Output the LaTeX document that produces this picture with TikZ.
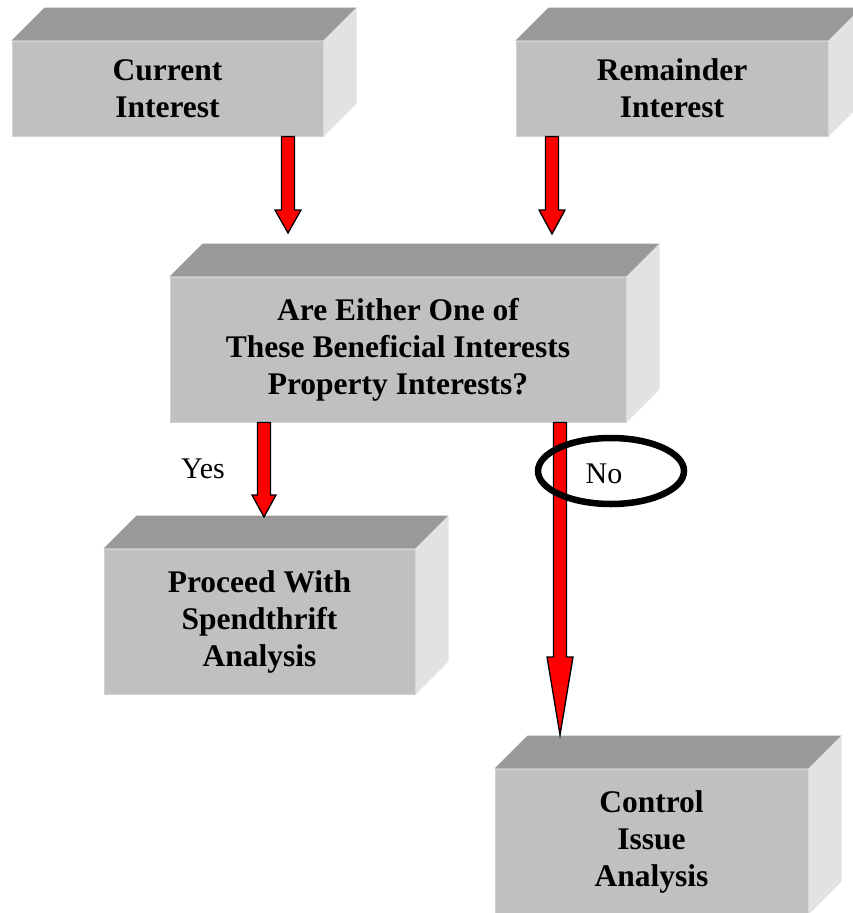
\documentclass[tikz,border=0pt]{standalone}
\usepackage{fontspec}
\setmainfont{Liberation Serif}
\usetikzlibrary{calc,shapes.geometric}

\definecolor{facefront}{HTML}{C0C0C0}
\definecolor{facetop}{HTML}{999999}
\definecolor{faceside}{HTML}{E2E2E2}
\definecolor{faceedge}{HTML}{D2D2D2}
\definecolor{arrowred}{HTML}{FF0000}

\tikzset{
  front/.style={fill=facefront, draw=faceedge, line width=1pt, inner sep=0pt,
    align=center, font=\fontsize{31.5}{37}\selectfont\bfseries},
  topface/.style={fill=facetop},
  sideface/.style={fill=faceside},
  barrow/.style={fill=arrowred, draw=black, line width=1.3pt, line join=miter},
  choice/.style={font=\fontsize{30}{34}\selectfont},
}

% depth of the extruded boxes
\newcommand\boxdepth{33}

% top and right faces of a box whose front face is node #1
\newcommand\extrude[1]{%
  \fill[topface] (#1.north west) -- ++(\boxdepth,-\boxdepth)
    -- ($(#1.north east)+(\boxdepth,-\boxdepth)$) -- (#1.north east) -- cycle;
  \fill[sideface] (#1.north east) -- ++(\boxdepth,-\boxdepth)
    -- ($(#1.south east)+(\boxdepth,-\boxdepth)$) -- (#1.south east) -- cycle;}

% block arrow from #1 to tip #2; shaft half width #3, head half width #4, head length #5
\newcommand\blockarrow[5]{%
  \draw[barrow] let \p1=(#1), \p2=(#2) in
    (\x1-#3pt,\y1) -- (\x1-#3pt,\y2+#5pt) -- (\x1-#4pt,\y2+#5pt) -- (\x1,\y2)
    -- (\x1+#4pt,\y2+#5pt) -- (\x1+#3pt,\y2+#5pt) -- (\x1+#3pt,\y1) -- cycle;}

\begin{document}
\begin{tikzpicture}[x=1pt,y=-1pt]
\useasboundingbox (0,0) rectangle (853,913);

% front faces
\node[front, minimum width=311, minimum height=95] (cur) at (167.5,88.5) {Current\\Interest};
\node[front, minimum width=312, minimum height=95] (rem) at (672,88.5) {Remainder\\Interest};
\node[front, minimum width=456, minimum height=145] (ask) at (398,349.5)
  {Are Either One of\\These Beneficial Interests\\Property Interests?};
\node[front, minimum width=311, minimum height=145] (spend) at (259.5,621.5)
  {Proceed With\\Spendthrift\\Analysis};
\node[front, minimum width=313, minimum height=145] (ctrl) at (651.5,841.5)
  {Control\\Issue\\Analysis};

% depth faces
\extrude{cur}
\extrude{rem}
\extrude{ask}
\extrude{spend}
\extrude{ctrl}

% connector end points
\path (cur.south) ++(120.5,0) coordinate (a1s);
\coordinate (a1e) at (288,233);
\path (rem.south) ++(-120,0) coordinate (a2s);
\coordinate (a2e) at (552,234);
\path (ask.south) ++(-134,0) coordinate (a3s);
\coordinate (a3e) at (264,517);
\path (ask.south) ++(162,0) coordinate (a4s);
\coordinate (a4e) at (560,735);

% connectors
\blockarrow{a1s}{a1e}{6.5}{13}{23}
\blockarrow{a2s}{a2e}{6.5}{13}{24}
\blockarrow{a3s}{a3e}{6.5}{12}{22}
\blockarrow{a4s}{a4e}{6.5}{13}{78}

% labels
\node[choice] (yes) at (203,469) {Yes};
\node[ellipse, draw=black, line width=6.5pt, minimum width=146, minimum height=66,
  inner sep=0pt] (ring) at (611,471) {};
\node[choice] (no) at (604,474) {No};
\end{tikzpicture}
\end{document}
